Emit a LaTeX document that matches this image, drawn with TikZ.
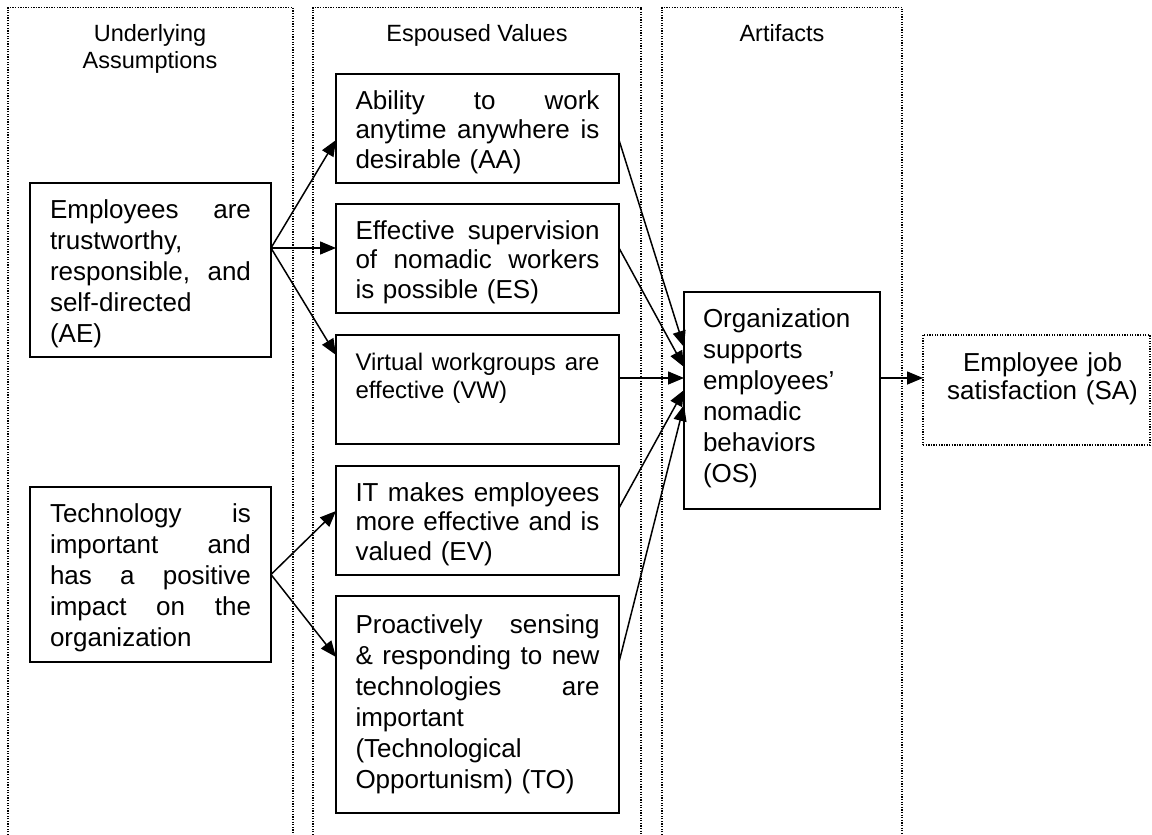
\documentclass[tikz,border=0pt]{standalone}
\usepackage{fontspec}
\setmainfont{Liberation Sans}
\usetikzlibrary{arrows.meta,calc}
\setlength{\parindent}{0pt}
\newcommand\topgap{\rule{0pt}{26pt}}
\newcommand\botgap{\rule[-10.5pt]{0pt}{10.5pt}}
\begin{document}
\begin{tikzpicture}[x=1pt,y=-1pt,
  dotline/.style={line width=1.3pt, dash pattern=on 1.3pt off 1.3pt},
  box/.style={draw, line width=1.8pt, outer sep=0pt, anchor=north west, inner ysep=0pt, align=left, font=\fontsize{26}{31}\selectfont},
  vbox/.style={box, text width=244pt, inner xsep=19.5pt, minimum height=109pt, font=\fontsize{26}{29.5}\selectfont},
  title/.style={align=center, anchor=north, inner sep=0pt, font=\fontsize{23.5}{27}\selectfont},
  arr/.style={line width=1.5pt, -{Triangle[length=16pt,width=13pt]}},
]
\fill[white] (0,0) rectangle (1152,835);
\useasboundingbox (0,0) rectangle (1152,835);

% columns
\draw[dotline] (8,835) -- (8,7.5) -- (293,7.5) -- (293,835);
\draw[dotline] (313,835) -- (313,7.5) -- (641,7.5) -- (641,835);
\draw[dotline] (662,835) -- (662,7.5) -- (902,7.5) -- (902,835);

\node[title] (tUA) at (150,24.5) {Underlying\\Assumptions};
\node[title] (tEV) at (477,24.5) {Espoused Values};
\node[title] (tAR) at (782,24.5) {Artifacts};

% underlying assumptions
\node[box, text width=201pt, inner xsep=20pt, minimum height=174pt] (AE) at (30,183)
  {\topgap Employees\hfill are\\trustworthy,\\responsible,\hfill and\\self-directed\\(AE)};
\node[box, text width=201pt, inner xsep=20pt, minimum height=175pt] (TI) at (30,487)
  {\topgap Technology\hfill is\\important\hfill and\\has\hfill a\hfill positive\\impact\hfill on\hfill the\\organization};

% espoused values
\node[vbox] (AA) at (336,74)
  {\topgap Ability\hfill to\hfill work\\anytime\hfill anywhere\hfill is\\desirable (AA)};
\node[vbox] (ES) at (336,204)
  {\topgap Effective\hfill supervision\\of\hfill nomadic\hfill workers\\is possible (ES)};
\node[vbox, font=\fontsize{24}{28}\selectfont] (VW) at (336,335)
  {Virtual\hfill workgroups\hfill are\\effective (VW)\\\mbox{}};
\node[vbox] (EV) at (336,466)
  {\topgap IT\hfill makes\hfill employees\\more\hfill effective\hfill and\hfill is\\valued (EV)};
\node[box, text width=244pt, inner xsep=19.5pt, minimum height=217pt] (TO) at (336,596)
  {Proactively\hfill sensing\\\&\hfill responding\hfill to\hfill new\\technologies\hfill are\\important\\(Technological\\Opportunism) (TO)};

% artifacts
\node[box, text width=158pt, inner xsep=19pt, minimum height=217pt] (OS) at (684,292)
  {Organization\\supports\\employees’\\nomadic\\behaviors\\(OS)\botgap};

% outcome
\node[draw, dotline, outer sep=0pt, anchor=north west, text width=207pt, inner xsep=10pt, inner ysep=0pt,
  minimum height=110pt, align=center, font=\fontsize{26}{28}\selectfont] (SA) at (923,335)
  {\hspace*{12pt}\mbox{Employee job}\\\hspace*{12pt}\mbox{satisfaction (SA)}\\\mbox{}};

% connectors
\draw[arr] ($(AE.east)+(0,-22)$) -- ($(AA.west)+(0,11.5)$);
\draw[arr] ($(AE.east)+(0,-22)$) -- ($(ES.west)+(0,-10.5)$);
\draw[arr] ($(AE.east)+(0,-22)$) -- ($(VW.west)+(0,-34.5)$);
\draw[arr] (TI.east) -- ($(EV.west)+(0,-9.5)$);
\draw[arr] (TI.east) -- ($(TO.west)+(0,-47.5)$);
\draw[arr] ($(AA.east)+(0,11.5)$) -- ($(OS.west)+(0,-53.5)$);
\draw[arr] ($(ES.east)+(0,-10.5)$) -- ($(OS.west)+(0,-33.5)$);
\draw[arr] ($(VW.east)+(0,-11.5)$) -- ($(OS.west)+(0,-22.5)$);
\draw[arr] ($(EV.east)+(0,-12.5)$) -- ($(OS.west)+(0,-10.5)$);
\draw[arr] ($(TO.east)+(0,-42.5)$) -- ($(OS.west)+(0,4.5)$);
\draw[arr] ($(OS.east)+(0,-22.5)$) -- ($(SA.west)+(0,-12)$);
\end{tikzpicture}
\end{document}
